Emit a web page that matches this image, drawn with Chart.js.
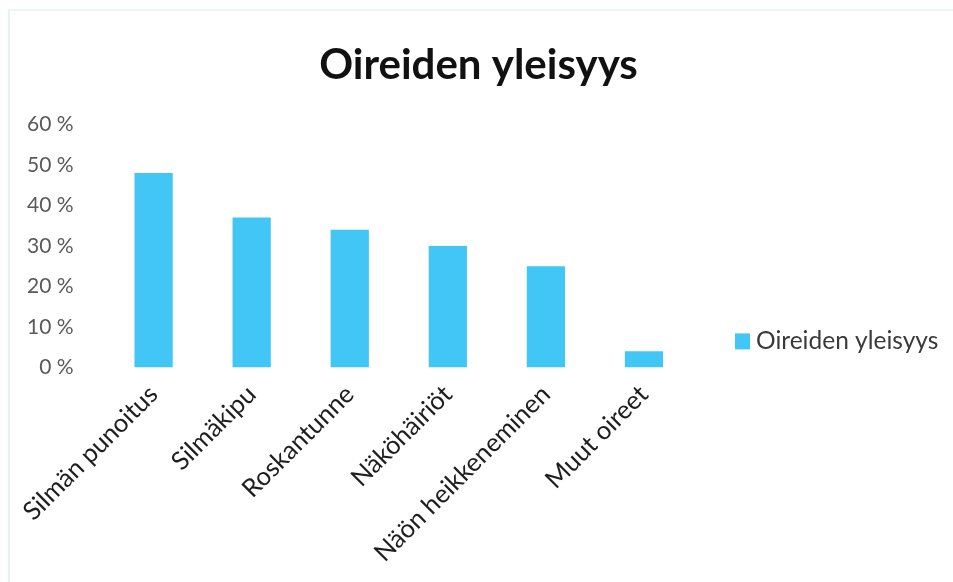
<!DOCTYPE html>
<html>
<head>
<meta charset="utf-8">
<script src="https://cdn.jsdelivr.net/npm/chart.js@4"></script>
<style>
  html, body { margin: 0; padding: 0; background: #fff; }
  #wrap { position: relative; width: 953px; height: 582px; overflow: hidden; }
  #frame {
    position: absolute; left: 8px; top: 9px; width: 1000px; height: 700px;
    border-left: 2px solid #e4f4f1; border-top: 2px solid #e9f6f4;
  }
  #chart { position: absolute; left: 0; top: 0; }
</style>
</head>
<body>
<div id="wrap">
  <div id="frame"></div>
  <canvas id="chart" width="953" height="582"></canvas>
</div>
<script>
// Oireiden esiintyvyys prosentteina
const oireet = ["Silmän punoitus", "Silmäkipu", "Roskantunne", "Näköhäiriöt", "Näön heikkeneminen", "Muut oireet"]
const yleisyys = [48, 37, 34, 30, 25, 4]
const sarjanNimi = "Oireiden yleisyys"
const otsikko = "Oireiden yleisyys"

const fontti = "Lato, 'Open Sans', sans-serif"
const pylvasVari = "#41c6f5"

// Selite piirretään itse kaavion oikealle puolelle, alaosan tasolle
const selite = {
  id: "selite",
  afterDraw(chart) {
    const { ctx, chartArea } = chart
    const ds = chart.data.datasets[0]
    const x = chartArea.right + 42
    const y = chartArea.bottom - 26
    ctx.save()
    ctx.fillStyle = ds.backgroundColor
    ctx.fillRect(x, y - 8, 15, 16)
    ctx.fillStyle = "#3a3a3a"
    ctx.font = "24.5px " + fontti
    ctx.textBaseline = "middle"
    ctx.fillText(ds.label, x + 21, y)
    ctx.restore()
  }
}

const ctx = document.getElementById("chart").getContext("2d")
new Chart(ctx, {
  type: "bar",
  data: {
    labels: oireet,
    datasets: [{
      label: sarjanNimi,
      data: yleisyys,
      backgroundColor: pylvasVari,
      borderWidth: 0,
      categoryPercentage: 1,
      barPercentage: 0.39
    }]
  },
  plugins: [selite],
  options: {
    responsive: false,
    animation: false,
    layout: { padding: { left: 4, right: 0, top: 0, bottom: 10 } },
    plugins: {
      title: {
        display: true,
        text: otsikko,
        color: "#111",
        font: { family: fontti, size: 42, weight: "bold" },
        padding: { top: 40, bottom: 34 }
      },
      legend: { display: false },
      tooltip: { enabled: false }
    },
    scales: {
      x: {
        grid: { display: false },
        border: { display: false },
        ticks: {
          color: "#1e1e1e",
          font: { family: fontti, size: 25.5 },
          minRotation: 45,
          maxRotation: 45,
          padding: 4
        }
      },
      y: {
        min: 0,
        max: 60,
        grid: { display: false },
        border: { display: false },
        ticks: {
          stepSize: 10,
          color: "#5a5a5a",
          font: { family: fontti, size: 21 },
          padding: 23,
          callback: (v) => v + " %"
        }
      },
      // tyhjä akseli varaa tilan selitteelle oikealla
      tila: {
        type: "linear",
        position: "right",
        grid: { display: false },
        border: { display: false },
        ticks: { display: false },
        afterFit: (scale) => { scale.width = 260 }
      }
    }
  }
})
</script>
</body>
</html>
